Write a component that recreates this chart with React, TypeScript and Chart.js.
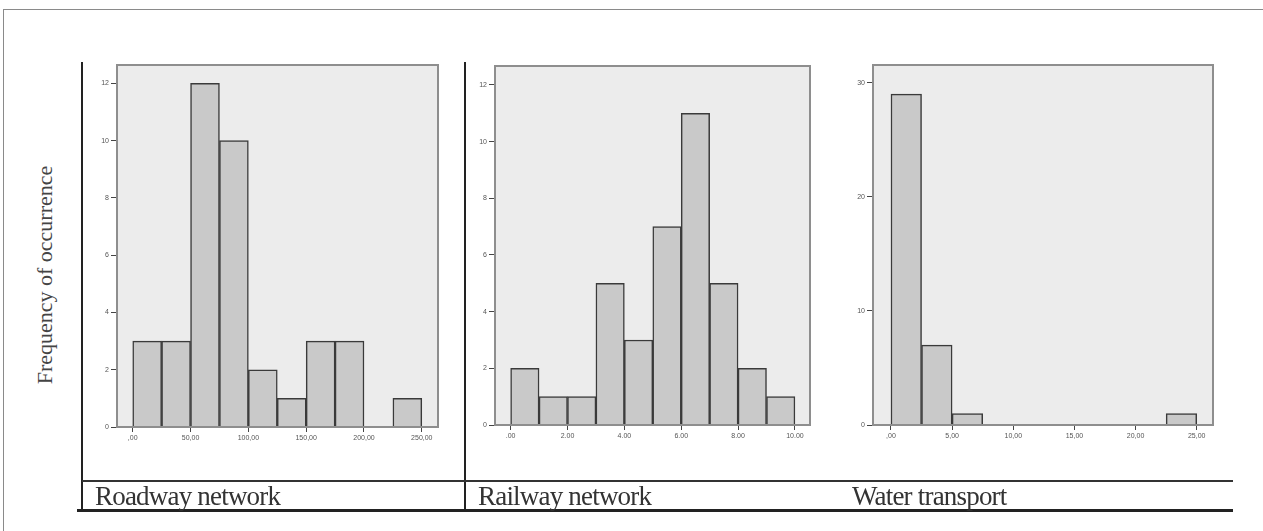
import React, { useEffect, useRef } from "react";
import { Chart, registerables } from "chart.js";

Chart.register(...registerables);

// ---- Data ----
const roadEdges = [0, 25, 50, 75, 100, 125, 150, 175, 200, 225, 250];
const roadCounts = [3, 3, 12, 10, 2, 1, 3, 3, 0, 1];
const roadXTicks = [0, 50, 100, 150, 200, 250];
const roadXLabels = [",00", "50,00", "100,00", "150,00", "200,00", "250,00"];
const roadYTicks = [0, 2, 4, 6, 8, 10, 12];

const railEdges = [0, 1, 2, 3, 4, 5, 6, 7, 8, 9, 10];
const railCounts = [2, 1, 1, 5, 3, 7, 11, 5, 2, 1];
const railXTicks = [0, 2, 4, 6, 8, 10];
const railXLabels = [".00", "2.00", "4.00", "6.00", "8.00", "10.00"];
const railYTicks = [0, 2, 4, 6, 8, 10, 12];

const waterEdges = [0, 2.5, 5, 7.5, 10, 12.5, 15, 17.5, 20, 22.5, 25];
const waterCounts = [29, 7, 1, 0, 0, 0, 0, 0, 0, 1];
const waterXTicks = [0, 5, 10, 15, 20, 25];
const waterXLabels = [",00", "5,00", "10,00", "15,00", "20,00", "25,00"];
const waterYTicks = [0, 10, 20, 30];

const panelTitles = ["Roadway network", "Railway network", "Water transport"];
const yTitle = "Frequency of occurrence";

type PanelCfg = {
  edges: number[];
  counts: number[];
  xTicks: number[];
  xLabels: string[];
  yTicks: number[];
  xMin: number;
  xMax: number;
  yMax: number;
  box: { left: number; top: number; width: number; height: number };
  yW: number;
  xH: number;
  padTop: number;
  padRight: number;
};

const plotFrame = {
  id: "plotFrame",
  beforeDatasetsDraw(chart: any) {
    const { ctx, chartArea: a } = chart;
    ctx.save();
    ctx.fillStyle = "#ececec";
    ctx.fillRect(a.left, a.top, a.right - a.left, a.bottom - a.top);
    ctx.restore();
  },
  afterDraw(chart: any) {
    const { ctx, chartArea: a } = chart;
    ctx.save();
    ctx.strokeStyle = "#8e8e8e";
    ctx.lineWidth = 2;
    ctx.strokeRect(a.left, a.top, a.right - a.left, a.bottom - a.top);
    ctx.restore();
  },
};

function Panel({ cfg }: { cfg: PanelCfg }) {
  const ref = useRef<HTMLCanvasElement | null>(null);
  useEffect(() => {
    if (!ref.current) return;
    const pts = cfg.counts.map((c, i) => ({
      x: (cfg.edges[i] + cfg.edges[i + 1]) / 2,
      y: c,
    }));
    const tickFont = { family: "'Liberation Sans', Arial, sans-serif", size: 7 };
    const chart = new Chart(ref.current, {
      type: "bar",
      data: {
        datasets: [
          {
            data: pts as any,
            backgroundColor: "#c9c9c9",
            borderColor: "#3a3a3a",
            borderWidth: 1.5,
            barPercentage: 1,
            categoryPercentage: 1,
          },
        ],
      },
      options: {
        animation: false,
        responsive: false,
        maintainAspectRatio: false,
        layout: { padding: { top: cfg.padTop, right: cfg.padRight, left: 0, bottom: 0 } },
        plugins: { legend: { display: false }, tooltip: { enabled: false } },
        scales: {
          x: {
            type: "linear",
            offset: false,
            min: cfg.xMin,
            max: cfg.xMax,
            afterBuildTicks: (s: any) => {
              s.ticks = cfg.xTicks.map((v) => ({ value: v }));
            },
            afterFit: (s: any) => {
              s.height = cfg.xH;
            },
            ticks: {
              font: tickFont,
              color: "#555",
              padding: 2,
              maxRotation: 0,
              autoSkip: false,
              callback: (v: any) => {
                const i = cfg.xTicks.indexOf(Number(v));
                return i >= 0 ? cfg.xLabels[i] : "";
              },
            },
            grid: {
              display: true,
              offset: false,
              drawOnChartArea: false,
              drawTicks: true,
              tickLength: 5,
              color: "#444",
              lineWidth: 1,
            },
            border: { display: false },
          },
          y: {
            type: "linear",
            min: 0,
            max: cfg.yMax,
            afterBuildTicks: (s: any) => {
              s.ticks = cfg.yTicks.map((v) => ({ value: v }));
            },
            afterFit: (s: any) => {
              s.width = cfg.yW;
            },
            ticks: {
              font: tickFont,
              color: "#555",
              padding: 2,
              autoSkip: false,
            },
            grid: {
              display: true,
              drawOnChartArea: false,
              drawTicks: true,
              tickLength: 6,
              color: "#444",
              lineWidth: 1,
            },
            border: { display: false },
          },
        },
      },
      plugins: [plotFrame],
    });
    return () => chart.destroy();
  }, [cfg]);
  const b = cfg.box;
  return (
    <canvas
      ref={ref}
      width={b.width}
      height={b.height}
      style={{ position: "absolute", left: b.left, top: b.top, width: b.width, height: b.height }}
    />
  );
}

const panels: PanelCfg[] = [
  {
    edges: roadEdges,
    counts: roadCounts,
    xTicks: roadXTicks,
    xLabels: roadXLabels,
    yTicks: roadYTicks,
    xMin: -13.6,
    xMax: 264,
    yMax: 12.64,
    box: { left: 80, top: 55, width: 370, height: 410 },
    yW: 37,
    xH: 38,
    padTop: 10,
    padRight: 12,
  },
  {
    edges: railEdges,
    counts: railCounts,
    xTicks: railXTicks,
    xLabels: railXLabels,
    yTicks: railYTicks,
    xMin: -0.55,
    xMax: 10.53,
    yMax: 12.67,
    box: { left: 466, top: 55, width: 356, height: 410 },
    yW: 29,
    xH: 40,
    padTop: 11,
    padRight: 12,
  },
  {
    edges: waterEdges,
    counts: waterCounts,
    xTicks: waterXTicks,
    xLabels: waterXLabels,
    yTicks: waterYTicks,
    xMin: -1.47,
    xMax: 26.33,
    yMax: 31.55,
    box: { left: 844, top: 55, width: 383, height: 410 },
    yW: 29,
    xH: 40,
    padTop: 10,
    padRight: 14,
  },
];

const line = (l: number, t: number, w: number, h: number, c: string) => (
  <div style={{ position: "absolute", left: l, top: t, width: w, height: h, background: c }} />
);

export default function App() {
  const serif = "'Liberation Serif', 'Times New Roman', serif";
  return (
    <div
      style={{
        position: "absolute",
        left: 0,
        top: 0,
        width: 1263,
        height: 531,
        overflow: "hidden",
        background: "#fff",
      }}
    >
      {line(3, 9, 1260, 1, "#8a8a8a")}
      {line(3, 9, 1, 522, "#8a8a8a")}
      {panels.map((p, i) => (
        <Panel key={i} cfg={p} />
      ))}
      {line(81, 62, 2, 450, "#222")}
      {line(464, 62, 2, 450, "#222")}
      {line(82, 480, 1151, 2, "#333")}
      {line(77, 509, 1156, 3, "#222")}
      <div
        style={{
          position: "absolute",
          left: 45,
          top: 275,
          transform: "translate(-50%, -50%) rotate(-90deg)",
          whiteSpace: "nowrap",
          fontFamily: serif,
          fontSize: 22,
          color: "#444",
          lineHeight: "22px",
        }}
      >
        {yTitle}
      </div>
      {[95, 478, 852].map((x, i) => (
        <div
          key={i}
          style={{
            position: "absolute",
            left: x,
            top: 483,
            whiteSpace: "nowrap",
            fontFamily: serif,
            fontSize: 27,
            lineHeight: "27px",
            color: "#333",
            letterSpacing: -0.8,
          }}
        >
          {panelTitles[i]}
        </div>
      ))}
    </div>
  );
}
